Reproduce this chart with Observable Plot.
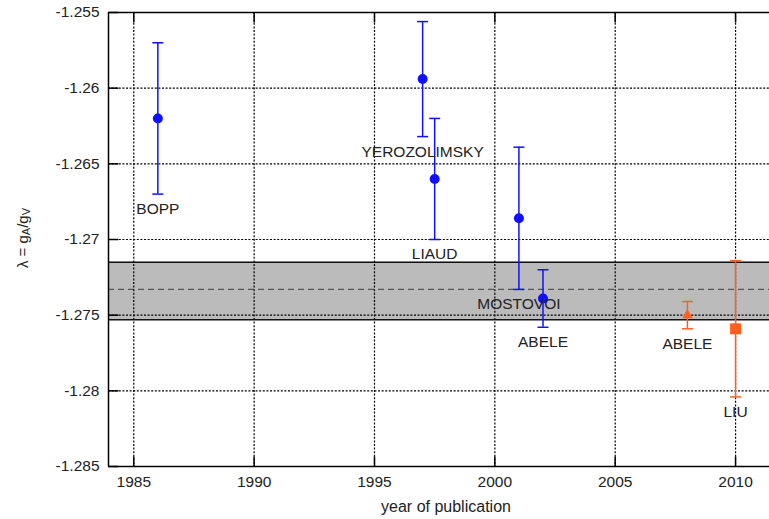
<!DOCTYPE html>
<html><head><meta charset="utf-8">
<script src="https://cdn.jsdelivr.net/npm/d3@7"></script>
<script src="https://cdn.jsdelivr.net/npm/@observablehq/plot@0.6"></script>
<style>
body{margin:0;background:#fff}
svg{font-family:"Liberation Sans",Arial,sans-serif}
</style>
</head><body><div id="chart"></div>
<script>
// ---- data ----
const names  = ["BOPP", "YEROZOLIMSKY", "LIAUD", "MOSTOVOI", "ABELE", "ABELE", "LIU"];
const years  = [1986, 1997, 1997.5, 2001, 2002, 2008, 2010];
const values = [-1.2620, -1.2594, -1.2660, -1.2686, -1.2739, -1.2750, -1.2759];
const errors = [0.0050, 0.0038, 0.0040, 0.0047, 0.0019, 0.0009, 0.0045];
const markers = ["circle", "circle", "circle", "circle", "circle", "triangle", "square"];
const colors = ["#1010ff", "#1010ff", "#1010ff", "#1010ff", "#1010ff", "#ff5f1f", "#ff5f1f"];

const bandLow = -1.2753, bandHigh = -1.2715, bandMean = -1.2733;

const xTicks = [1985, 1990, 1995, 2000, 2005, 2010];
const yTicks = [-1.255, -1.26, -1.265, -1.27, -1.275, -1.28, -1.285];
const xDomain = [1983.95, 2011.41];
const yDomain = [-1.285, -1.255];

const data = names.map((n, i) => ({
  name: n, year: years[i], value: values[i],
  lo: values[i] - errors[i], hi: values[i] + errors[i],
  marker: markers[i], color: colors[i]
}));

// custom line symbols
const capSym = {draw(ctx) { ctx.moveTo(-5.5, 0); ctx.lineTo(5.5, 0); }};
const tickL = {draw(ctx) { ctx.moveTo(0, 0); ctx.lineTo(10, 0); }};
const tickB = {draw(ctx) { ctx.moveTo(0, 0); ctx.lineTo(0, -10); }};
const tickT = {draw(ctx) { ctx.moveTo(0, 0); ctx.lineTo(0, 10); }};

const ink = "#222";

const chart = Plot.plot({
  width: 769, height: 519,
  marginLeft: 108, marginRight: 0, marginTop: 12, marginBottom: 53,
  style: {fontFamily: "Liberation Sans, Arial, sans-serif", background: "#fff"},
  x: {domain: xDomain, label: null},
  y: {domain: yDomain, label: null},
  color: {type: "identity"},
  marks: [
    // band
    Plot.rect([0], {x1: xDomain[0], x2: xDomain[1], y1: bandLow, y2: bandHigh, fill: "#bbbbbb"}),
    Plot.ruleY([bandMean], {stroke: "#555", strokeWidth: 1.2, strokeDasharray: "6,4"}),
    // grid
    Plot.ruleX(xTicks, {stroke: "#000", strokeWidth: 1.2, strokeDasharray: "2,1.6"}),
    Plot.ruleY(yTicks, {stroke: "#000", strokeWidth: 1.2, strokeDasharray: "2,1.6"}),
    Plot.ruleY([bandLow, bandHigh], {stroke: "#111", strokeWidth: 1.5}),
    // inner solid ticks
    Plot.dot(yTicks, {x: () => xDomain[0], y: d => d, symbol: tickL, stroke: "#000", strokeWidth: 1.5, fill: "none"}),
    Plot.dot(xTicks, {x: d => d, y: () => yDomain[0], symbol: tickB, stroke: "#000", strokeWidth: 1.5, fill: "none"}),
    Plot.dot(xTicks, {x: d => d, y: () => yDomain[1], symbol: tickT, stroke: "#000", strokeWidth: 1.5, fill: "none"}),
    // error bars
    Plot.ruleX(data, {x: "year", y1: "lo", y2: "hi", stroke: "color", strokeWidth: 1.5}),
    Plot.dot(data, {x: "year", y: "hi", symbol: capSym, stroke: "color", strokeWidth: 1.5, fill: "none"}),
    Plot.dot(data, {x: "year", y: "lo", symbol: capSym, stroke: "color", strokeWidth: 1.5, fill: "none"}),
    // markers
    Plot.dot(data.filter(d => d.marker === "circle"), {x: "year", y: "value", symbol: "circle", r: 5, fill: "color", stroke: "none"}),
    Plot.dot(data.filter(d => d.marker === "triangle"), {x: "year", y: "value", symbol: "triangle", r: 3.9, fill: "color", stroke: "none"}),
    Plot.dot(data.filter(d => d.marker === "square"), {x: "year", y: "value", symbol: "square", r: 6.2, fill: "color", stroke: "none"}),
    // labels
    Plot.text(data, {x: "year", y: "lo", text: "name", dy: 15, fill: ink, fontSize: 15.5}),
    // axes
    Plot.axisY({ticks: yTicks, tickSize: 0, tickPadding: 9, tickFormat: d => String(d), fontSize: 15.5, color: ink, label: null}),
    Plot.axisX({ticks: xTicks, tickSize: 0, tickPadding: 9, tickFormat: d => String(d), fontSize: 15.5, color: ink, label: null}),
    // frame: left, top, bottom (right edge lies outside the picture)
    Plot.ruleX([xDomain[0]], {stroke: "#000", strokeWidth: 1.5}),
    Plot.ruleY(yDomain, {stroke: "#000", strokeWidth: 1.5})
  ]
});

document.getElementById("chart").appendChild(chart);

const svg = d3.select(chart);
// y axis title with subscripts
const yl = svg.append("text")
  .attr("transform", "translate(24,238) rotate(-90)")
  .attr("text-anchor", "middle")
  .attr("dominant-baseline", "middle")
  .attr("fill", ink)
  .attr("font-size", 15)
  .attr("font-family", "Liberation Sans, Arial, sans-serif");
yl.append("tspan").text("λ = g");
yl.append("tspan").attr("dy", 3).attr("font-size", 11).text("A");
yl.append("tspan").attr("dy", -3).text("/g");
yl.append("tspan").attr("dy", 3).attr("font-size", 11).text("V");

// x axis title
svg.append("text")
  .attr("x", 446).attr("y", 512)
  .attr("text-anchor", "middle")
  .attr("fill", ink)
  .attr("font-size", 16)
  .attr("font-family", "Liberation Sans, Arial, sans-serif")
  .text("year of publication");
</script>
</body></html>
